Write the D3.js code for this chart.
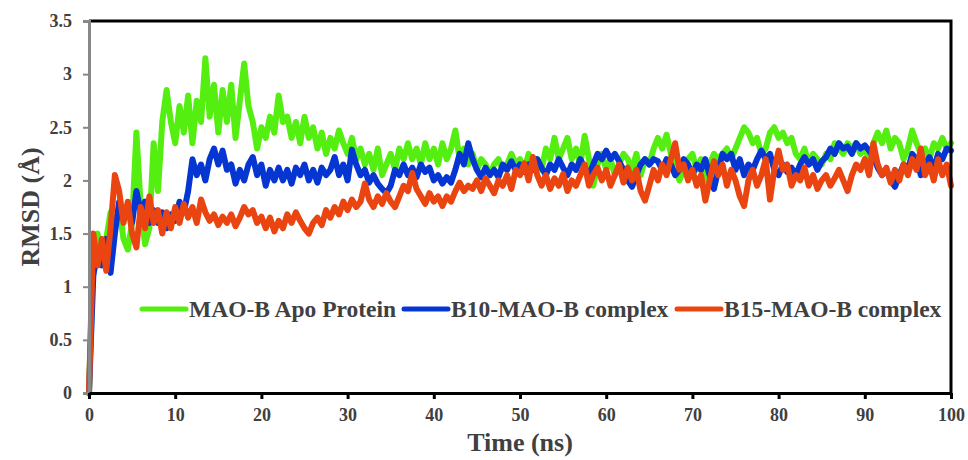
<!DOCTYPE html>
<html>
<head>
<meta charset="utf-8">
<script src="https://cdn.jsdelivr.net/npm/d3@7"></script>
<style>
  body { margin: 0; background: #fff; }
  svg text { font-family: "Liberation Serif", "Times New Roman", serif !important; font-weight: bold; }
</style>
</head>
<body>
<svg width="968" height="460"></svg>
<script>
const stepNs = 0.5;

const apoRmsd = [
  0, 1.35, 1.5, 1.25, 1.45, 1.7, 1.55, 1.75, 1.45, 1.35,
  1.6, 2.45, 1.75, 1.4, 1.55, 2.35, 1.9, 2.55, 2.85, 2.55,
  2.35, 2.7, 2.45, 2.8, 2.35, 2.75, 2.55, 3.15, 2.6, 2.9,
  2.45, 2.85, 2.55, 2.9, 2.4, 2.75, 3.1, 2.7, 2.55, 2.3,
  2.5, 2.4, 2.6, 2.45, 2.8, 2.55, 2.6, 2.4, 2.55, 2.35,
  2.6, 2.4, 2.5, 2.3, 2.45, 2.25, 2.4, 2.3, 2.47, 2.35,
  2.25, 2.4, 2.2, 2.3, 2.15, 2.25, 2.1, 2.3, 2.05, 2.15,
  2.25, 2.1, 2.3, 2.2, 2.35, 2.2, 2.3, 2.15, 2.35, 2.2,
  2.3, 2.15, 2.35, 2.2, 2.3, 2.47, 2.2, 2.3, 2.15, 2.25,
  2.1, 2.2, 2.15, 2.05, 2.15, 2.2, 2.1, 2.15, 2.25, 2.15,
  2.2, 2.1, 2.25, 2.15, 2.2, 2.1, 2.3, 2.2, 2.4, 2.2,
  2.3, 2.4, 2.2, 2.3, 2.15, 2.42, 2.2, 1.95, 2.15, 2.25,
  2.1, 2.2, 2.05, 2.15, 2.25, 2.2, 2.1, 2.25, 2.05, 2.2,
  2.15, 2.3, 2.4, 2.3, 2.43, 2.25, 2.1, 2.0, 2.1, 2.2,
  2.25, 2.1, 2.2, 2.0, 2.15, 2.25, 2.2, 2.25, 2.3, 2.2,
  2.3, 2.4, 2.5, 2.45, 2.35, 2.4, 2.25, 2.3, 2.45, 2.5,
  2.4, 2.45, 2.35, 2.4, 2.25, 2.2, 2.3, 2.15, 2.25, 2.2,
  2.15, 2.25, 2.2, 2.35, 2.3, 2.25, 2.35, 2.3, 2.35, 2.25,
  2.3, 2.2, 2.35, 2.45, 2.35, 2.47, 2.3, 2.4, 2.35, 2.2,
  2.3, 2.47, 2.35, 2.25, 2.3, 2.2, 2.35, 2.3, 2.4, 2.3,
  2.35
];

const b10Rmsd = [
  0, 1.1, 1.35, 1.2, 1.45, 1.13, 1.5, 1.8, 1.65, 1.75,
  1.6, 1.9, 1.7, 1.8, 1.6, 1.72, 1.6, 1.7, 1.55, 1.68,
  1.62, 1.8, 1.7, 1.9, 2.2, 2.05, 2.15, 2.0, 2.2, 2.3,
  2.15, 2.28, 2.1, 2.15, 1.97, 2.1, 2.0, 2.15, 2.22, 2.05,
  2.15, 1.95, 2.1, 2.0, 2.12, 2.0, 2.1, 1.97, 2.12, 2.05,
  2.15, 2.0, 2.1, 1.98, 2.12, 2.05, 2.1, 2.22, 2.05, 2.15,
  2.0, 2.29, 2.15, 2.05, 2.1, 1.98, 2.05, 1.97, 1.92, 1.88,
  1.95, 2.1, 2.05, 2.15, 2.05, 2.12, 2.03, 2.15, 2.08, 2.12,
  2.0, 2.05, 1.97, 2.03, 1.98, 2.1, 2.25, 2.15, 2.35, 2.2,
  2.1, 2.03, 2.12, 2.05, 2.1, 2.03, 2.15, 2.1, 2.18, 2.1,
  2.15, 2.08, 2.15, 2.1, 2.2, 2.12, 2.05, 2.15, 2.1, 2.2,
  2.12, 2.05, 2.15, 2.1, 2.2, 2.12, 2.05, 2.15, 2.25, 2.2,
  2.28, 2.2, 2.25, 2.18, 2.1, 2.0, 1.94, 2.05, 2.15, 2.2,
  2.15, 2.2, 2.18, 2.1, 2.2, 2.15, 2.05, 2.1, 2.2, 2.15,
  2.05, 2.15, 2.1, 2.2, 2.05, 1.92, 2.1, 2.25, 2.2, 2.25,
  2.1, 2.2, 2.05, 2.15, 2.1, 2.2, 2.28, 2.2, 2.25, 2.1,
  2.05, 2.15, 2.08, 2.12, 2.05, 2.15, 2.22, 2.15, 2.2, 2.1,
  2.18, 2.22, 2.3, 2.25, 2.35, 2.3, 2.32, 2.25, 2.35, 2.3,
  2.33, 2.28, 2.22, 2.12, 2.05, 2.1, 2.0, 1.94, 2.05, 2.15,
  2.1, 2.25, 2.2, 2.05, 2.15, 2.22, 2.1, 2.25, 2.2, 2.3,
  2.28
];

const b15Rmsd = [
  0, 1.5, 1.2, 1.45, 1.15, 1.55, 2.05, 1.9, 1.6, 1.8,
  1.5, 1.37, 1.75, 1.55, 1.85, 1.6, 1.72, 1.5, 1.7, 1.55,
  1.75, 1.6, 1.78, 1.65, 1.75, 1.6, 1.82, 1.7, 1.62, 1.68,
  1.58, 1.66, 1.6, 1.68, 1.57, 1.65, 1.75, 1.68, 1.72, 1.6,
  1.66, 1.55, 1.65, 1.52, 1.62, 1.55, 1.68, 1.6, 1.7, 1.62,
  1.55, 1.5, 1.6, 1.65, 1.58, 1.72, 1.65, 1.75, 1.68, 1.8,
  1.72, 1.82, 1.75, 1.8, 1.97, 1.82, 1.75, 1.85, 1.78, 1.88,
  1.8, 1.75, 1.85, 1.95, 1.9, 2.07, 1.92, 1.85, 1.78, 1.88,
  1.8, 1.85, 1.76, 1.85, 1.8, 1.9, 1.98, 1.9, 1.95, 1.92,
  2.0, 1.9, 2.02, 1.95, 1.88, 2.0, 1.95, 2.05, 1.92, 2.1,
  2.05, 2.16, 2.0, 2.22, 2.05, 1.95, 2.05, 1.92, 2.02, 1.95,
  2.06, 1.9, 2.0, 1.95, 2.05, 2.15, 1.95, 2.05, 2.12, 2.0,
  2.1, 1.95, 2.05, 2.15, 1.98, 2.12, 2.0, 2.1, 1.9, 1.81,
  1.95, 2.1, 2.0, 2.15, 2.05, 2.2, 2.35, 2.1, 2.15, 2.0,
  2.1, 1.95, 2.05, 1.81, 2.0, 2.18, 2.05, 2.15, 1.95, 2.1,
  2.0, 1.85, 1.76, 2.0, 2.1, 1.95, 2.05, 2.2, 1.82, 2.1,
  2.28, 2.1, 2.15, 1.95, 2.05, 2.0, 2.12, 1.95, 2.05, 1.92,
  2.0, 2.05, 1.95, 2.02, 2.1, 2.0, 1.9, 2.05, 2.15, 2.1,
  2.2, 2.05, 2.35, 2.15, 2.05, 2.12, 1.98, 2.1, 2.0, 2.15,
  2.05, 2.2, 2.1, 2.3, 2.05, 2.15, 2.0, 2.2, 2.05, 2.15,
  1.95
];

const seriesNames = ["MAO-B Apo Protein", "B10-MAO-B complex", "B15-MAO-B complex"];
const seriesColors = ["#55ee11", "#0636d2", "#ea4510"];
const xTicks = [0, 10, 20, 30, 40, 50, 60, 70, 80, 90, 100];
const yTicks = [0, 0.5, 1, 1.5, 2, 2.5, 3, 3.5];

const svg = d3.select("svg");
const margin = {left: 89, right: 17, top: 21, bottom: 67};
const width = 968, height = 460;

const x = d3.scaleLinear().domain([0, 100]).range([margin.left, width - margin.right]);
const y = d3.scaleLinear().domain([0, 3.5]).range([height - margin.bottom, margin.top]);

const series = [apoRmsd, b10Rmsd, b15Rmsd].map((vals, i) => ({
    name: seriesNames[i],
    color: seriesColors[i],
    values: vals.map((v, j) => ({t: j * stepNs, v}))
}));

// data lines
const line = d3.line().x(d => x(d.t)).y(d => y(d.v));
svg.append("g")
    .selectAll("path")
    .data(series)
    .join("path")
    .attr("fill", "none")
    .attr("stroke", d => d.color)
    .attr("stroke-width", 6)
    .attr("stroke-linejoin", "round")
    .attr("stroke-linecap", "round")
    .attr("d", d => line(d.values));

// frame: top + right black
svg.append("path")
    .attr("d", `M${x(0)},${y(3.5)}H${x(100)}V${y(0)}`)
    .attr("fill", "none")
    .attr("stroke", "#000")
    .attr("stroke-width", 3);

// y axis (gray)
const yAxis = svg.append("g")
    .attr("transform", `translate(${x(0)},0)`)
    .call(d3.axisLeft(y).tickValues(yTicks).tickFormat(d3.format("")).tickSize(6).tickPadding(11));
yAxis.select(".domain").attr("stroke", "#888").attr("stroke-width", 3);
yAxis.selectAll(".tick line").attr("stroke", "#888").attr("stroke-width", 2);
yAxis.selectAll(".tick text").attr("fill", "#404040").style("font-size", "18px");

// x axis (black)
const xAxis = svg.append("g")
    .attr("transform", `translate(0,${y(0)})`)
    .call(d3.axisBottom(x).tickValues(xTicks).tickSize(6).tickPadding(9).tickSizeOuter(0));
xAxis.select(".domain").attr("stroke", "#000").attr("stroke-width", 3);
xAxis.selectAll(".tick line").attr("stroke", "#000").attr("stroke-width", 3);
xAxis.selectAll(".tick text").attr("fill", "#404040").style("font-size", "18px");

// axis titles
svg.append("text")
    .attr("x", (x(0) + x(100)) / 2)
    .attr("y", 451)
    .attr("text-anchor", "middle")
    .attr("fill", "#404040")
    .style("font-size", "26px")
    .text("Time (ns)");

svg.append("text")
    .attr("transform", `translate(39,${y(1.75)}) rotate(-90)`)
    .attr("text-anchor", "middle")
    .attr("fill", "#404040")
    .style("font-size", "26px")
    .text("RMSD (Å)");

// legend
const legendX = [142, 404, 677];
const legendY = 309;
const legend = svg.append("g")
    .selectAll("g")
    .data(series)
    .join("g")
    .attr("transform", (d, i) => `translate(${legendX[i]},${legendY})`);
legend.append("line")
    .attr("x1", 0).attr("x2", 44)
    .attr("stroke", d => d.color)
    .attr("stroke-width", 5)
    .attr("stroke-linecap", "round");
legend.append("text")
    .attr("x", 47)
    .attr("dy", "0.35em")
    .attr("fill", "#404040")
    .style("font-size", "23.5px")
    .text(d => d.name);
</script>
</body>
</html>
